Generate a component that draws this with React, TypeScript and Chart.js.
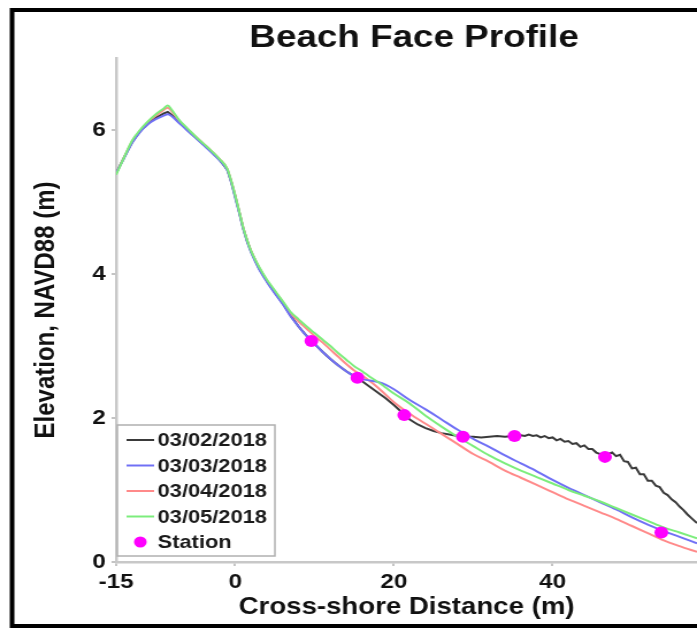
import React, { useEffect, useRef } from 'react';
import { Chart, registerables } from 'chart.js';

Chart.register(...registerables);

// ---------------- data ----------------
const chartTitle = 'Beach Face Profile';
const xAxisTitle = 'Cross-shore Distance (m)';
const yAxisTitle = 'Elevation, NAVD88 (m)';
const xTickValues = [-15, 0, 20, 40];
const yTickValues = [0, 2, 4, 6];
const seriesLabels = ['03/02/2018', '03/03/2018', '03/04/2018', '03/05/2018', 'Station'];
const seriesColors = ['#3a3a3a', '#7070f5', '#ff8a8a', '#7ced7c', '#ff00ff'];

const dist0302 = [
  -15, -14, -13, -12, -11, -10, -9, -8.5, -8, -7, -6, -5, -4, -3, -2, -1, -0.5, 0, 0.5, 1, 1.5, 2, 3, 4, 5, 6, 7,
  8, 9, 10, 11, 12, 13, 14, 15, 16, 17, 18, 19, 20, 21, 22, 23, 24, 25, 26, 27, 28, 29, 30, 31, 32, 33, 34, 35,
  36, 36.5, 37, 37.5, 38, 38.5, 39, 39.5, 40, 40.5, 41, 41.5, 42, 42.5, 43, 43.5, 44, 44.5, 45, 45.5, 46, 46.5,
  47, 47.5, 48, 48.5, 49, 49.5, 50, 50.5, 51, 51.5, 52, 52.5, 53, 53.5, 54, 54.5, 55, 55.5, 56, 56.5, 57, 57.5, 58.2,
];
const elev0302 = [
  5.40, 5.62, 5.83, 5.98, 6.09, 6.17, 6.23, 6.25, 6.21, 6.10, 6.00, 5.90, 5.80, 5.70, 5.59, 5.45, 5.28, 5.08, 4.86, 4.64, 4.46, 4.31, 4.08, 3.90, 3.74, 3.59, 3.42,
  3.27, 3.14, 3.03, 2.92, 2.82, 2.73, 2.65, 2.58, 2.51, 2.43, 2.35, 2.27, 2.18, 2.08, 1.98, 1.91, 1.86, 1.82, 1.79, 1.77, 1.75, 1.74, 1.74, 1.73, 1.74, 1.75, 1.74, 1.75,
  1.76, 1.75, 1.77, 1.75, 1.76, 1.73, 1.75, 1.72, 1.73, 1.69, 1.71, 1.67, 1.68, 1.64, 1.65, 1.60, 1.62, 1.57, 1.57, 1.52, 1.50, 1.46,
  1.50, 1.52, 1.47, 1.49, 1.40, 1.39, 1.30, 1.31, 1.22, 1.22, 1.13, 1.13, 1.06, 1.04, 0.96, 0.93, 0.87, 0.83, 0.77, 0.72, 0.66, 0.61, 0.54,
];

const distSmooth = [
  -15, -14, -13, -12, -11, -10, -9, -8.5, -8, -7, -6, -5, -4, -3, -2, -1, -0.5, 0, 0.5, 1, 1.5, 2, 3, 4, 5, 6, 7,
  8, 9, 10, 11, 12, 13, 14, 15, 16, 17, 18, 19, 20,
  22, 24, 26, 28, 30, 32, 34, 36, 38, 40, 42, 44, 46, 48, 50, 52, 54, 56, 58.2,
];
const elev0303 = [
  5.40, 5.61, 5.82, 5.97, 6.08, 6.15, 6.20, 6.22, 6.19, 6.09, 5.99, 5.89, 5.79, 5.69, 5.58, 5.44, 5.27, 5.06, 4.85, 4.63, 4.45, 4.30, 4.07, 3.89, 3.73, 3.58, 3.41,
  3.27, 3.14, 3.03, 2.92, 2.82, 2.73, 2.65, 2.58, 2.54, 2.52, 2.50, 2.46, 2.40,
  2.25, 2.12, 1.98, 1.84, 1.71, 1.60, 1.48, 1.37, 1.26, 1.14, 1.03, 0.93, 0.83, 0.73, 0.62, 0.52, 0.43, 0.35, 0.26,
];
const elev0304 = [
  5.40, 5.62, 5.84, 5.99, 6.11, 6.20, 6.28, 6.31, 6.26, 6.12, 6.01, 5.91, 5.81, 5.71, 5.60, 5.46, 5.29, 5.09, 4.87, 4.65, 4.47, 4.32, 4.09, 3.91, 3.76, 3.61, 3.45,
  3.34, 3.24, 3.14, 3.05, 2.95, 2.85, 2.75, 2.66, 2.59, 2.51, 2.42, 2.32, 2.22,
  2.06, 1.92, 1.78, 1.64, 1.50, 1.39, 1.27, 1.17, 1.07, 0.97, 0.87, 0.78, 0.69, 0.60, 0.50, 0.40, 0.30, 0.22, 0.14,
];
const elev0305 = [
  5.38, 5.62, 5.85, 6.00, 6.12, 6.22, 6.30, 6.34, 6.28, 6.13, 6.02, 5.91, 5.81, 5.71, 5.60, 5.46, 5.29, 5.09, 4.87, 4.65, 4.47, 4.32, 4.10, 3.92, 3.77, 3.62, 3.47,
  3.37, 3.27, 3.18, 3.09, 3.00, 2.90, 2.81, 2.72, 2.65, 2.57, 2.50, 2.42, 2.34,
  2.20, 2.03, 1.88, 1.74, 1.61, 1.48, 1.37, 1.27, 1.18, 1.09, 1.00, 0.92, 0.84, 0.75, 0.66, 0.57, 0.48, 0.41, 0.33,
];

const stationDist = [9.6, 15.4, 21.3, 28.7, 35.2, 46.6, 53.7];
const stationElev = [3.07, 2.56, 2.04, 1.74, 1.75, 1.46, 0.41];

// ---------------- layout constants ----------------
const FONT = "'Liberation Sans', Arial, Helvetica, sans-serif";
const CANVAS_W = 606;
const CANVAS_H = 630;
const STRETCH = 697 / CANVAS_W;

const toPoints = (xs: number[], ys: number[]) => xs.map((x, i) => ({ x, y: ys[i] }));

const framePlugin = {
  id: 'frame',
  afterDraw(chart: any) {
    const ctx = chart.ctx;
    ctx.save();
    ctx.strokeStyle = '#000';
    ctx.lineWidth = 4;
    ctx.strokeRect(10.5, 10, 700, 616);
    ctx.fillStyle = '#111';
    ctx.font = `bold 32px ${FONT}`;
    ctx.textAlign = 'center';
    ctx.textBaseline = 'middle';
    ctx.fillText(chartTitle, 360, 38);
    ctx.restore();
  },
};

const boxLegendPlugin = {
  id: 'boxLegend',
  afterDraw(chart: any) {
    const ctx = chart.ctx;
    const area = chart.chartArea;
    const left = area.left + 1;
    const bottom = area.bottom - 6;
    const w = 137;
    const h = 131;
    const top = bottom - h;
    ctx.save();
    ctx.fillStyle = '#ffffff';
    ctx.fillRect(left, top, w, h);
    ctx.strokeStyle = '#b0b0b0';
    ctx.lineWidth = 1.5;
    ctx.strokeRect(left, top, w, h);
    ctx.font = `bold 19px ${FONT}`;
    ctx.textBaseline = 'middle';
    ctx.textAlign = 'left';
    chart.data.datasets.forEach((ds: any, i: number) => {
      const y = top + 15 + i * 25.5;
      if (ds.showLine === false) {
        ctx.fillStyle = ds.backgroundColor;
        ctx.beginPath();
        ctx.arc(left + 20, y, 5.5, 0, Math.PI * 2);
        ctx.fill();
      } else {
        ctx.strokeStyle = ds.borderColor;
        ctx.lineWidth = 2;
        ctx.beginPath();
        ctx.moveTo(left + 8, y);
        ctx.lineTo(left + 32, y);
        ctx.stroke();
      }
      ctx.fillStyle = '#1a1a1a';
      ctx.fillText(ds.label, left + 35, y + 1);
    });
    ctx.restore();
  },
};

export default function App() {
  const canvasRef = useRef<HTMLCanvasElement | null>(null);

  useEffect(() => {
    if (!canvasRef.current) return;
    const lineDs = (i: number, xs: number[], ys: number[], order: number, smooth: boolean) => ({
      label: seriesLabels[i],
      data: toPoints(xs, ys),
      borderColor: seriesColors[i],
      backgroundColor: seriesColors[i],
      borderWidth: 2,
      pointRadius: 0,
      tension: smooth ? 0.4 : 0,
      cubicInterpolationMode: smooth ? 'monotone' : 'default',
      order,
    });

    const chart = new Chart(canvasRef.current, {
      type: 'line',
      data: {
        datasets: [
          lineDs(0, dist0302, elev0302, 4, false),
          lineDs(1, distSmooth, elev0303, 2, true),
          lineDs(2, distSmooth, elev0304, 3, true),
          lineDs(3, distSmooth, elev0305, 1, true),
          {
            label: seriesLabels[4],
            data: toPoints(stationDist, stationElev),
            showLine: false,
            borderColor: seriesColors[4],
            backgroundColor: seriesColors[4],
            pointRadius: 6,
            pointBorderWidth: 0,
            order: 0,
          },
        ],
      } as any,
      options: {
        animation: false,
        responsive: false,
        devicePixelRatio: 1,
        layout: { autoPadding: false, padding: { top: 58, right: 0, bottom: 0, left: 0 } },
        plugins: {
          legend: { display: false },
          tooltip: { enabled: false },
          title: { display: false },
        },
        scales: {
          x: {
            type: 'linear',
            min: -15,
            max: 58.2,
            afterBuildTicks: (scale: any) => {
              scale.ticks = xTickValues.map((v) => ({ value: v }));
            },
            afterFit: (scale: any) => {
              scale.height = 68;
            },
            ticks: {
              autoSkip: false,
              maxRotation: 0,
              padding: 4,
              color: '#111',
              font: { family: FONT, size: 21, weight: 'bold' },
            },
            grid: { display: true, drawOnChartArea: false, drawTicks: true, tickLength: 4, color: '#c4c4c4', lineWidth: 2 },
            border: { display: true, color: '#c8c8c8', width: 2.5 },
            title: {
              display: true,
              text: xAxisTitle,
              color: '#111',
              font: { family: FONT, size: 24, weight: 'bold' },
              padding: { top: 0, bottom: 8 },
            },
          },
          y: {
            type: 'linear',
            min: 0,
            max: 7,
            afterBuildTicks: (scale: any) => {
              scale.ticks = yTickValues.map((v) => ({ value: v }));
            },
            afterFit: (scale: any) => {
              scale.width = 101;
            },
            ticks: {
              autoSkip: false,
              padding: 5,
              color: '#111',
              font: { family: FONT, size: 21, weight: 'bold' },
            },
            grid: { display: true, drawOnChartArea: false, drawTicks: true, tickLength: 4, color: '#c4c4c4', lineWidth: 2 },
            border: { display: true, color: '#c8c8c8', width: 2.5 },
            title: {
              display: true,
              text: yAxisTitle,
              color: '#111',
              font: { family: FONT, size: 24, weight: 'bold' },
              padding: { top: 26, bottom: 0 },
            },
          },
        },
      } as any,
      plugins: [framePlugin, boxLegendPlugin],
    });
    return () => chart.destroy();
  }, []);

  return (
    <div style={{ position: 'absolute', left: 0, top: 0, width: 697, height: 630, overflow: 'hidden', background: '#fff' }}>
      <canvas
        ref={canvasRef}
        width={CANVAS_W}
        height={CANVAS_H}
        style={{
          width: CANVAS_W,
          height: CANVAS_H,
          display: 'block',
          transform: `scaleX(${STRETCH})`,
          transformOrigin: '0 0',
        }}
      />
    </div>
  );
}
